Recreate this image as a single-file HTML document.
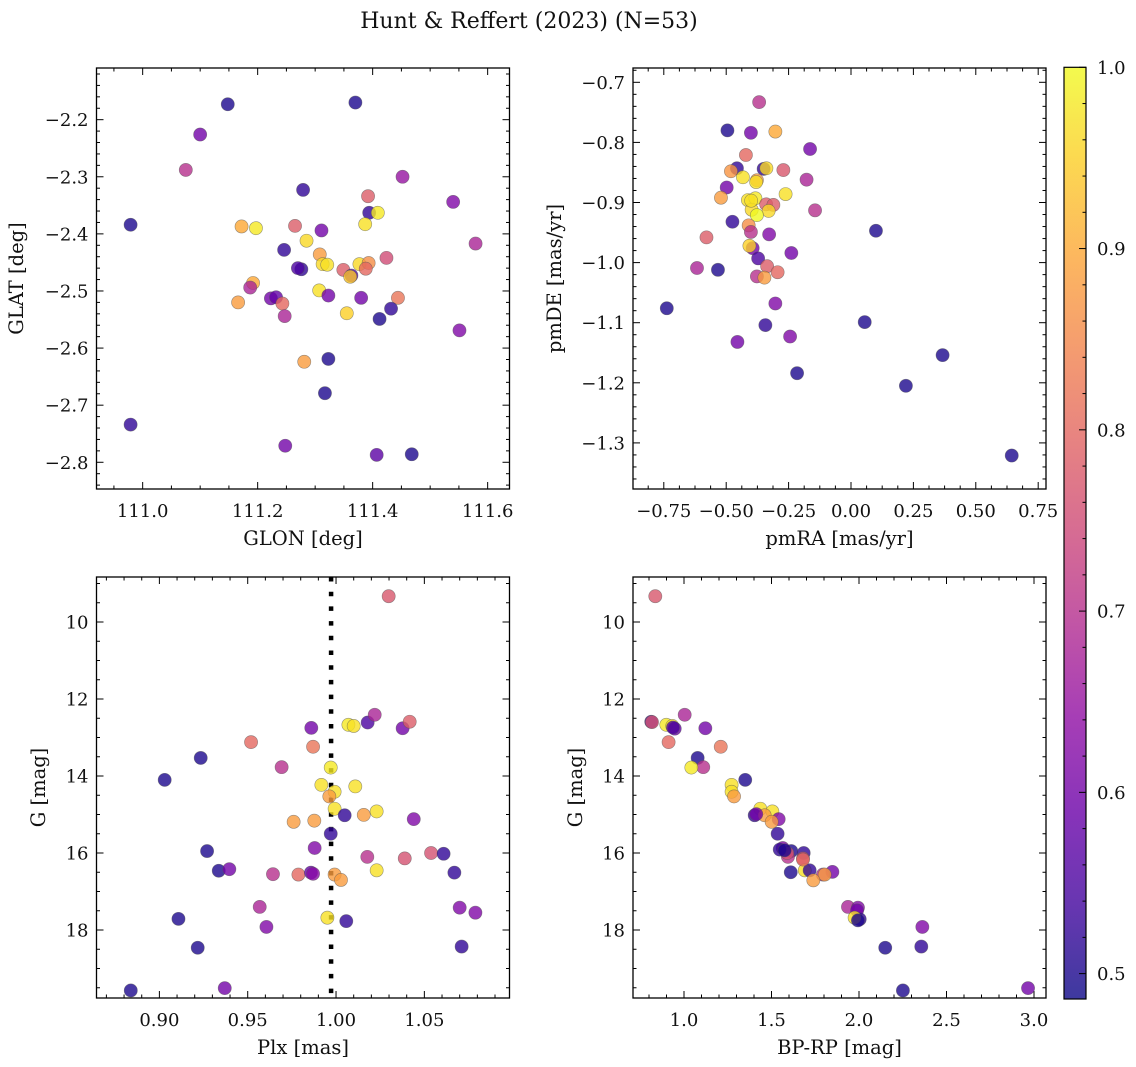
<!DOCTYPE html>
<html><head><meta charset="utf-8">
<style>
html,body{margin:0;padding:0;background:#fff;}
svg{display:block;font-family:"DejaVu Serif","Liberation Serif",serif;}
</style></head>
<body>
<svg id="fig" width="1136" height="1067" viewBox="0 0 1136 1067" xmlns="http://www.w3.org/2000/svg">
<text x="529" y="28" font-size="22" text-anchor="middle" fill="#111">Hunt &amp; Reffert (2023) (N=53)</text>
</svg>
<script>
// ---- Panel 1 data: GLON / GLAT ----
const glon=[111.148,111.370,111.100,111.075,111.452,111.279,111.392,111.540,110.979,111.394,111.409,111.172,111.197,111.265,111.311,111.387,111.579,111.285,111.246,111.308,111.424,111.313,111.321,111.377,111.393,111.388,111.276,111.349,111.363,111.361,111.192,111.187,111.307,111.323,111.223,111.232,111.243,111.166,111.380,111.444,111.432,111.247,111.355,111.412,111.551,111.281,111.323,111.317,110.979,111.248,111.407,111.468,111.270];
const glat=[-2.173,-2.170,-2.226,-2.288,-2.300,-2.323,-2.334,-2.344,-2.384,-2.363,-2.363,-2.387,-2.390,-2.386,-2.394,-2.383,-2.417,-2.412,-2.428,-2.436,-2.442,-2.453,-2.454,-2.453,-2.451,-2.461,-2.462,-2.463,-2.473,-2.475,-2.486,-2.494,-2.499,-2.508,-2.513,-2.511,-2.522,-2.520,-2.512,-2.512,-2.531,-2.544,-2.539,-2.549,-2.569,-2.624,-2.619,-2.679,-2.734,-2.771,-2.787,-2.786,-2.460];
const prob1=[0.50,0.50,0.60,0.70,0.65,0.52,0.78,0.62,0.50,0.52,0.98,0.90,0.98,0.78,0.60,0.97,0.68,0.96,0.52,0.88,0.75,0.96,0.97,0.96,0.86,0.80,0.52,0.78,0.55,0.94,0.90,0.68,0.97,0.60,0.60,0.58,0.80,0.88,0.60,0.82,0.52,0.68,0.95,0.50,0.62,0.88,0.50,0.50,0.52,0.60,0.57,0.50,0.55];
// ---- Panel 2 data: pmRA / pmDE ----
const pmra=[-0.368,-0.495,-0.401,-0.303,-0.164,-0.421,-0.457,-0.481,-0.350,-0.339,-0.271,-0.433,-0.377,-0.178,-0.498,-0.262,-0.521,-0.413,-0.383,-0.340,-0.311,-0.398,-0.330,-0.377,-0.144,-0.475,-0.410,-0.401,-0.328,-0.579,0.100,-0.394,-0.407,-0.239,-0.372,-0.336,-0.294,-0.617,-0.533,-0.377,-0.347,-0.738,-0.303,0.055,-0.343,-0.244,-0.455,0.367,-0.216,0.220,0.644,-0.380,-0.400];
const pmde=[-0.733,-0.780,-0.784,-0.782,-0.811,-0.821,-0.843,-0.848,-0.844,-0.843,-0.846,-0.858,-0.863,-0.862,-0.875,-0.886,-0.892,-0.896,-0.893,-0.903,-0.904,-0.912,-0.914,-0.921,-0.913,-0.932,-0.938,-0.949,-0.953,-0.958,-0.947,-0.976,-0.972,-0.984,-0.993,-1.006,-1.016,-1.009,-1.012,-1.023,-1.025,-1.076,-1.068,-1.099,-1.104,-1.123,-1.132,-1.154,-1.184,-1.205,-1.321,-0.866,-0.897];
const prob2=[0.70,0.50,0.60,0.90,0.60,0.80,0.52,0.87,0.52,0.96,0.77,0.97,0.88,0.68,0.60,0.97,0.88,0.97,0.98,0.78,0.78,0.96,0.96,1.00,0.70,0.52,0.86,0.70,0.62,0.78,0.50,0.60,0.95,0.60,0.55,0.78,0.80,0.68,0.50,0.70,0.88,0.50,0.62,0.50,0.52,0.62,0.60,0.50,0.50,0.50,0.50,0.97,0.97];
// ---- Panel 3 data: Plx / G ----
const plx=[1.0298,0.9860,1.0070,1.0100,1.0179,1.0219,1.0377,1.0417,0.9519,0.9870,0.9234,0.9692,0.9030,0.9970,0.9917,0.9992,0.9962,1.0109,0.9992,1.0049,1.0157,1.0230,1.0440,0.9760,0.9877,0.9970,0.9879,0.9270,1.0177,1.0389,1.0538,1.0609,1.0230,0.9336,0.9396,0.9643,0.9787,0.9858,0.9870,0.9992,1.0028,1.0670,0.9568,1.0700,1.0789,0.9951,1.0058,0.9108,0.9606,0.9217,1.0711,0.8838,0.9370];
const gmag=[9.33,12.75,12.67,12.70,12.61,12.41,12.76,12.59,13.12,13.24,13.53,13.77,14.10,13.78,14.23,14.41,14.53,14.27,14.85,15.02,15.01,14.92,15.12,15.19,15.16,15.50,15.87,15.95,16.10,16.14,16.00,16.02,16.45,16.46,16.42,16.55,16.56,16.51,16.54,16.56,16.70,16.51,17.40,17.42,17.55,17.68,17.77,17.71,17.92,18.46,18.43,19.57,19.51];
const prob3=[0.77,0.60,0.98,0.97,0.55,0.68,0.60,0.78,0.80,0.82,0.50,0.70,0.50,0.98,0.97,0.97,0.88,0.97,0.97,0.52,0.88,0.97,0.62,0.88,0.88,0.52,0.62,0.50,0.70,0.76,0.76,0.52,0.97,0.50,0.60,0.70,0.80,0.58,0.63,0.88,0.88,0.52,0.68,0.62,0.62,0.97,0.52,0.50,0.62,0.50,0.52,0.50,0.60];
// ---- Panel 4 data: BP-RP / G ----
const bprp=[0.836,0.813,0.817,1.004,0.899,0.933,0.947,1.122,0.912,1.210,1.078,1.110,1.042,1.350,1.272,1.272,1.286,1.436,1.505,1.404,1.541,1.461,1.501,1.535,1.564,1.613,1.684,1.594,1.680,1.590,1.610,1.690,1.718,1.848,1.794,1.804,1.739,1.680,1.937,1.994,1.989,2.004,1.975,1.994,2.362,2.150,2.356,2.251,2.966,0.937,1.547,1.413,1.575];
const gmag4=[9.33,12.59,12.60,12.41,12.67,12.70,12.77,12.76,13.12,13.24,13.53,13.77,13.78,14.10,14.23,14.41,14.53,14.85,14.92,15.02,15.12,15.02,15.19,15.50,15.87,15.95,16.00,16.10,16.14,16.00,16.50,16.45,16.45,16.49,16.56,16.56,16.71,16.17,17.40,17.42,17.49,17.72,17.68,17.75,17.92,18.46,18.43,19.57,19.51,12.74,15.91,14.99,15.93];
const prob4=[0.77,0.52,0.76,0.68,0.98,0.97,0.58,0.60,0.80,0.82,0.50,0.70,0.98,0.50,0.97,0.97,0.88,0.97,0.97,0.52,0.62,0.88,0.88,0.52,0.62,0.50,0.52,0.70,0.76,0.76,0.50,0.97,0.52,0.60,0.70,0.88,0.88,0.80,0.68,0.62,0.60,0.52,0.97,0.50,0.62,0.50,0.52,0.50,0.60,0.55,0.52,0.60,0.50];
// ---- Tick labels ----
const xTicks1=[111.0,111.2,111.4,111.6];
const yTicks1=[-2.2,-2.3,-2.4,-2.5,-2.6,-2.7,-2.8];
const xTicks2=[-0.75,-0.50,-0.25,0.00,0.25,0.50,0.75];
const yTicks2=[-0.7,-0.8,-0.9,-1.0,-1.1,-1.2,-1.3];
const xTicks3=[0.90,0.95,1.00,1.05];
const yTicksG=[10,12,14,16,18];
const xTicks4=[1.0,1.5,2.0,2.5,3.0];
const cbTicks=[0.5,0.6,0.7,0.8,0.9,1.0];
const plxRef=[0.9972];
const vmin=0.486, vmax=1.0;

const NS='http://www.w3.org/2000/svg';
const svg=document.getElementById('fig');
const TF=18, LF=19.5;
function mk(tag,attrs,parent){const e=document.createElementNS(NS,tag);for(const k in attrs)e.setAttribute(k,attrs[k]);(parent||svg).appendChild(e);return e;}

const plasma=[[13,8,135],[65,4,157],[106,0,168],[143,13,164],[177,42,144],[204,71,120],[225,100,98],[242,132,75],[252,166,54],[252,206,37],[240,249,33]];
function cmap(v){let t=(v-vmin)/(vmax-vmin);t=Math.max(0,Math.min(1,t));const s=t*10;const i=Math.min(9,Math.floor(s));const f=s-i;const a=plasma[i],b=plasma[i+1];return 'rgb('+a.map((c,k)=>Math.round(c+(b[k]-c)*f)).join(',')+')';}
function fmtNum(v,d){const s=Math.abs(v).toFixed(d);return (v<0?'\u2212':'')+s;}

function makePanel(p){
  p.sx=v=>p.x0+(v-p.dx0)/(p.dx1-p.dx0)*(p.x1-p.x0);
  p.sy=v=>p.y0+(v-p.dy0)/(p.dy1-p.dy0)*(p.y1-p.y0);
  const g=mk('g',{});
  
  
  p.g=g;
  const lo=Math.min(p.dx0,p.dx1),hi=Math.max(p.dx0,p.dx1);
  const xm=p.xTicks[1]-p.xTicks[0];
  for(let v=p.xTicks[0]-xm*3;v<=hi+1e-9;v+=xm/p.xDiv){
    if(v<lo-1e-9)continue;
    const major=Math.abs(((v-p.xTicks[0])/xm)-Math.round((v-p.xTicks[0])/xm))<1e-6;
    const L=major?7:3.5;const x=p.sx(v);
    const t1=mk('line',{x1:x,x2:x,y1:p.y1,y2:p.y1-L,stroke:'#000','stroke-width':1},g);
    
    
    const t2=mk('line',{x1:x,x2:x,y1:p.y0,y2:p.y0+L,stroke:'#000','stroke-width':1},g);
    
    
  }
  const ylo=Math.min(p.dy0,p.dy1),yhi=Math.max(p.dy0,p.dy1);
  const ym=Math.abs(p.yTicks[1]-p.yTicks[0]);
  const ybase=Math.min(...p.yTicks);
  for(let v=ybase-ym*3;v<=yhi+1e-9;v+=ym/p.yDiv){
    if(v<ylo-1e-9)continue;
    const r=(v-ybase)/ym;const major=Math.abs(r-Math.round(r))<1e-6;
    const L=major?7:3.5;const y=p.sy(v);
    const t1=mk('line',{x1:p.x0,x2:p.x0+L,y1:y,y2:y,stroke:'#000','stroke-width':1},g);
    
    
    const t2=mk('line',{x1:p.x1,x2:p.x1-L,y1:y,y2:y,stroke:'#000','stroke-width':1},g);
    
    
  }
  p.xTicks.forEach(v=>{
    const t=mk('text',{x:p.sx(v),y:p.y1+28,'font-size':TF,'text-anchor':'middle',fill:'#111'},g);
    t.textContent=fmtNum(v,p.xDec);
    
    
  });
  p.yTicks.forEach(v=>{
    const t=mk('text',{x:p.x0-8,y:p.sy(v)+6.5,'font-size':TF,'text-anchor':'end',fill:'#111'},g);
    t.textContent=fmtNum(v,p.yDec);
    
    
  });
  const xl=mk('text',{x:(p.x0+p.x1)/2,y:p.y1+56,'font-size':LF,'text-anchor':'middle',fill:'#111'},g);
  xl.textContent=p.xLabel;
  
  
  const yl=mk('text',{x:0,y:0,'font-size':LF,'text-anchor':'middle',fill:'#111',transform:'translate('+p.yLabelX+','+((p.y0+p.y1)/2)+') rotate(-90)'},g);
  yl.textContent=p.yLabel;
  
  
  return p;
}
function drawPoints(p,xs,ys,ps){
  for(let i=0;i<xs.length;i++){
    const c=mk('circle',{cx:p.sx(xs[i]),cy:p.sy(ys[i]),r:6.6,fill:cmap(ps[i]),'fill-opacity':0.8,stroke:'#555','stroke-opacity':0.6,'stroke-width':0.6},p.g);
    
    
  }
}
function frame(p){
  const r=mk('rect',{x:p.x0,y:p.y0,width:p.x1-p.x0,height:p.y1-p.y0,fill:'none',stroke:'#000','stroke-width':1.3},p.g);
  
  
}

const P1=makePanel({name:'panel-glon-glat',x0:96.5,x1:509.5,y0:68,y1:489,dx0:110.9197,dx1:111.638,dy0:-2.1095,dy1:-2.8468,xTicks:xTicks1,yTicks:yTicks1,xDiv:4,yDiv:5,xDec:1,yDec:1,xLabel:'GLON [deg]',yLabel:'GLAT [deg]',yLabelX:23});
drawPoints(P1,glon,glat,prob1);frame(P1);
const P2=makePanel({name:'panel-pmra-pmde',x0:633,x1:1046,y0:68,y1:489,dx0:-0.8734,dx1:0.7813,dy0:-0.6762,dy1:-1.3767,xTicks:xTicks2,yTicks:yTicks2,xDiv:4,yDiv:5,xDec:2,yDec:1,xLabel:'pmRA [mas/yr]',yLabel:'pmDE [mas/yr]',yLabelX:561});
drawPoints(P2,pmra,pmde,prob2);frame(P2);
const P3=makePanel({name:'panel-plx-g',x0:96.5,x1:509.5,y0:577,y1:998,dx0:0.8644,dx1:1.0982,dy0:8.831,dy1:19.766,xTicks:xTicks3,yTicks:yTicksG,xDiv:5,yDiv:4,xDec:2,yDec:0,xLabel:'Plx [mas]',yLabel:'G [mag]',yLabelX:45});
plxRef.forEach(v=>{
  const l=mk('line',{x1:P3.sx(v),x2:P3.sx(v),y1:P3.y0,y2:P3.y1,stroke:'#000','stroke-width':4.5,'stroke-dasharray':'4.5 10.2'},P3.g);
  
  
});
drawPoints(P3,plx,gmag,prob3);frame(P3);
const P4=makePanel({name:'panel-bprp-g',x0:633,x1:1046,y0:577,y1:998,dx0:0.7086,dx1:3.0686,dy0:8.831,dy1:19.766,xTicks:xTicks4,yTicks:yTicksG,xDiv:5,yDiv:4,xDec:1,yDec:0,xLabel:'BP-RP [mag]',yLabel:'G [mag]',yLabelX:582});
drawPoints(P4,bprp,gmag4,prob4);frame(P4);

// ---- Colorbar ----
const cb={x0:1064,x1:1086,y0:67.3,y1:999};
const cbY=v=>cb.y0+(vmax-v)/(vmax-vmin)*(cb.y1-cb.y0);
const defs=mk('defs',{});
const grad=mk('linearGradient',{id:'plasma',x1:0,y1:1,x2:0,y2:0},defs);
for(let i=0;i<=20;i++){const v=vmin+(vmax-vmin)*i/20;mk('stop',{offset:(i/20),'stop-color':cmap(v),'stop-opacity':0.8},grad);}
const cbg=mk('g',{});


mk('rect',{x:cb.x0,y:cb.y0,width:cb.x1-cb.x0,height:cb.y1-cb.y0,fill:'url(#plasma)',stroke:'#000','stroke-width':1.2},cbg);
for(let v=0.5;v<=1.0001;v+=0.02){
  const major=Math.abs(v*10-Math.round(v*10))<1e-6;const y=cbY(v);
  const t=mk('line',{x1:cb.x1,x2:cb.x1-(major?7:3.5),y1:y,y2:y,stroke:'#000','stroke-width':1},cbg);
  
  
}
cbTicks.forEach(v=>{
  const t=mk('text',{x:cb.x1+11,y:cbY(v)+6.5,'font-size':TF,fill:'#111'},cbg);
  t.textContent=v.toFixed(1);
  
  
});
</script>
</body></html>
